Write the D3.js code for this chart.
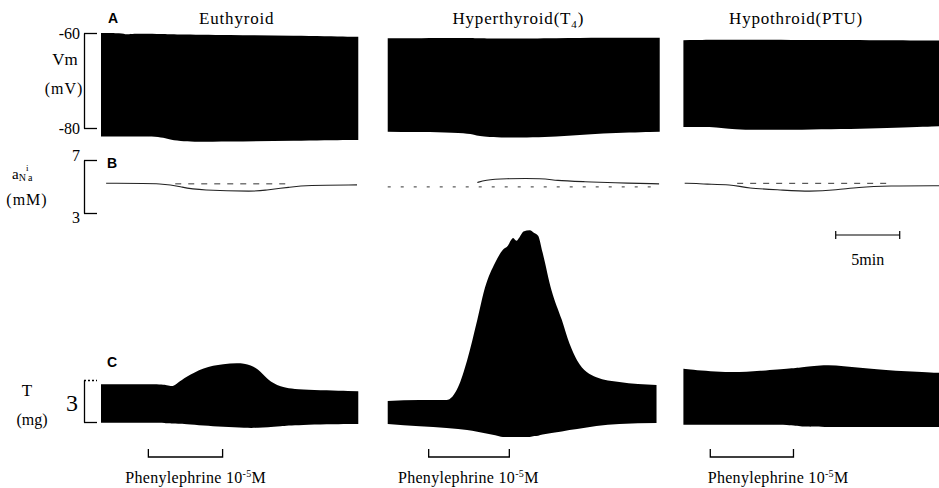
<!DOCTYPE html>
<html>
<head>
<meta charset="utf-8">
<script src="https://cdn.jsdelivr.net/npm/d3@7"></script>
<style>
body { margin: 0; background: #fff; }
svg text { font-family: "Liberation Serif", "Times New Roman", serif; fill: #000; }
.plab { font-family: "Liberation Sans", Arial, sans-serif; font-weight: bold; font-size: 14px; }
</style>
</head>
<body>
<svg width="939" height="488"></svg>
<script>
// groups, each on its own stretch of one shared time axis (min)
var groups = ["Euthyroid", "Hyperthyroid", "Hypothroid"];
var groupNote = ["", "T", "PTU"];
var colStart = [0, 22.4, 45.5];

// A: membrane potential envelope  [min, top mV, bottom mV]
var vmEu = [[0, -60, -81.8], [1.6, -60, -81.8], [2.0, -60.4, -81.8], [2.4, -60.1, -81.8], [5.0, -60.2, -81.8],
            [5.6, -60.3, -82.9], [10, -60.4, -82.9], [15, -60.6, -82.7], [20.1, -60.8, -82.5]];
var vmHyper = [[0, -61.1, -80.8], [6.5, -61.0, -80.9], [7.0, -61.1, -81.8], [8.8, -61.2, -82.1],
               [13.4, -61.1, -81.9], [16.6, -61.0, -81.1], [21.25, -61.0, -80.8]];
var vmHypo = [[0, -61.5, -79.8], [2.9, -61.4, -79.8], [3.7, -61.4, -80.4], [9.1, -61.5, -80.4],
              [15.5, -61.5, -80.1], [20.2, -61.6, -79.6]];

// B: intracellular Na activity  [min, mM]
var naEu = [[0.4, 5.24], [5.2, 5.24], [6.3, 4.94], [7.7, 4.72], [12.2, 4.62], [12.7, 4.72],
            [14.8, 4.95], [16, 5.1], [20, 5.12]];
var naHyper = [[7.0, 5.3], [7.6, 5.49], [9, 5.6], [12.3, 5.62], [13, 5.45], [15.5, 5.36],
               [17.5, 5.28], [21.2, 5.2]];
var naHypo = [[0.1, 5.24], [1.1, 5.24], [1.6, 5.17], [3.7, 5.17], [5.0, 4.86], [7.6, 4.74],
              [9.9, 4.61], [12.0, 4.74], [13.6, 4.94], [15.9, 5.06], [20.2, 5.06]];
// dashed reference level  [from min, to min, mM]
var naRef = [[5.8, 14.5, 5.2], [0, 21.2, 4.97], [4.2, 15.9, 5.24]];

// C: tension envelope  [min, top mg, bottom mg]
var tEu = [[0, 2.7, -0.05], [4.4, 2.7, -0.05], [5.2, 2.65, -0.1], [5.6, 2.5, -0.1], [6.0, 2.8, -0.12],
           [6.6, 3.2, -0.15], [8.0, 3.9, -0.25], [9.5, 4.15, -0.35], [11.3, 4.25, -0.43], [12.3, 3.8, -0.42],
           [13.0, 3.0, -0.38], [14.0, 2.5, -0.3], [15.2, 2.3, -0.2], [20.1, 2.2, -0.14]];
var tHyper = [[0, 1.5, -0.14], [2.5, 1.57, -0.3], [4.6, 1.57, -0.42], [5.5, 2.5, -0.5], [6.2, 4.4, -0.58],
              [7.0, 7.3, -0.7], [7.6, 9.6, -0.8], [8.4, 11.4, -0.95], [9.0, 12.3, -1.07], [9.4, 12.6, -1.07],
              [9.6, 12.95, -1.07], [9.8, 13.15, -1.07], [10.05, 12.95, -1.07], [10.3, 13.2, -1.07],
              [10.6, 13.6, -1.07], [11.1, 13.7, -1.07], [11.45, 13.5, -1.0], [11.75, 13.3, -0.98],
              [12.1, 12.1, -0.9], [12.8, 9.4, -0.78], [13.6, 7.3, -0.68], [14.2, 5.6, -0.58],
              [14.8, 4.4, -0.5], [16.3, 3.2, -0.28], [18.1, 2.85, -0.15], [21.0, 2.65, -0.07]];
var tHypo = [[0, 3.8, -0.2], [3.4, 3.5, -0.2], [6.0, 3.65, -0.2], [8.6, 3.85, -0.22], [9.2, 3.9, -0.35],
             [11.25, 4.15, -0.36], [13.8, 3.85, -0.36], [16.4, 3.65, -0.36], [20.2, 3.5, -0.36]];

// phenylephrine application  [from min, to min]
var phenyl = [[3.7, 9.5], [3.2, 9.5], [2.1, 8.6]];

var vmTicks = [-60, -80], naTicks = [7, 3], tTicks = [3, 0];
var scaleBar = [57.4, 62.4];

var svg = d3.select("svg");

var x = d3.scaleLinear().domain([0, 65]).range([101, 933]);
var yVm = d3.scaleLinear().domain([-80, -60]).range([128, 33]);
var yNa = d3.scaleLinear().domain([3, 7]).range([213, 160]);
var yT = d3.scaleLinear().domain([0, 3]).range([422, 380]);

function band(ys, off, curve) {
    return d3.area()
        .curve(curve || d3.curveBasis)
        .x(function(d) { return x(d[0] + off); })
        .y0(function(d) { return ys(d[2]); })
        .y1(function(d) { return ys(d[1]); });
}
function trace(ys, off) {
    return d3.line()
        .curve(d3.curveBasis)
        .x(function(d) { return x(d[0] + off); })
        .y(function(d) { return ys(d[1]); });
}

var vmAll = [vmEu, vmHyper, vmHypo], naAll = [naEu, naHyper, naHypo], tAll = [tEu, tHyper, tHypo];

vmAll.forEach(function(d, i) {
    svg.append("path").attr("d", band(yVm, colStart[i])(d)).attr("fill", "#000");
});
tAll.forEach(function(d, i) {
    var c = i == 1 ? d3.curveMonotoneX : d3.curveBasis;
    svg.append("path").attr("d", band(yT, colStart[i], c)(d)).attr("fill", "#000");
});
naAll.forEach(function(d, i) {
    svg.append("path").attr("d", trace(yNa, colStart[i])(d))
        .attr("fill", "none").attr("stroke", "#222").attr("stroke-width", 1.1);
});
naRef.forEach(function(r, i) {
    svg.append("line")
        .attr("x1", x(r[0] + colStart[i])).attr("x2", x(r[1] + colStart[i]))
        .attr("y1", yNa(r[2])).attr("y2", yNa(r[2]))
        .attr("stroke", "#333").attr("stroke-width", 1)
        .attr("stroke-dasharray", i == 1 ? "3,10" : "6,7");
});

// calibration brackets
function bracket(ys, ticks, labels) {
    var g = svg.append("g").attr("transform", "translate(84,0)")
        .call(d3.axisLeft(ys).tickValues(ticks).tickSizeInner(-13).tickSizeOuter(0).tickPadding(4)
            .tickFormat(function(d, i) { return labels[i]; }));
    g.select(".domain").attr("stroke-width", 1.3);
    g.selectAll(".tick line").attr("stroke-width", 1.3);
    g.selectAll(".tick text").style("font-size", "16px").attr("font-family", null);
    return g;
}
bracket(yVm, vmTicks, ["-60", "-80"]);
var gb = bracket(yNa, naTicks, ["7", "3"]);
gb.selectAll(".tick text").attr("dy", function(d) { return d == 7 ? "0em" : "0.6em"; });
var gc = bracket(yT, tTicks, ["", ""]);
gc.selectAll(".tick line").filter(function(d) { return d == 3; }).attr("stroke-dasharray", "2,2");

// titles
var titleAt = [10.6, 10.2, 8.8];
groups.forEach(function(g, i) {
    var t = svg.append("text").attr("x", x(titleAt[i] + colStart[i])).attr("y", 24)
        .attr("text-anchor", "middle").style("font-size", "17px").style("letter-spacing", "0.8px")
        .text(g);
    if (groupNote[i] == "T") {
        t.append("tspan").text("(T");
        t.append("tspan").attr("dy", 4).style("font-size", "11px").text("4");
        t.append("tspan").attr("dy", -4).text(")");
    } else if (groupNote[i]) {
        t.append("tspan").text("(" + groupNote[i] + ")");
    }
});

// panel letters
svg.append("text").attr("class", "plab").attr("x", 108).attr("y", 23).text("A");
svg.append("text").attr("class", "plab").attr("x", 107).attr("y", 168).text("B");
svg.append("text").attr("class", "plab").attr("x", 107).attr("y", 367).text("C");

// row labels
function lab(tx, xx, yy, size) {
    return svg.append("text").attr("x", xx).attr("y", yy).attr("text-anchor", "middle")
        .style("font-size", size + "px").text(tx);
}
lab("Vm", 65, 65, 17);
lab("(mV)", 64, 94, 16).style("letter-spacing", "1px");
var an = svg.append("text").attr("x", 12).attr("y", 179).style("font-size", "15px").text("a");
an.append("tspan").attr("dy", 2).style("font-size", "10px").text("N");
an.append("tspan").attr("dy", 0).attr("dx", 2).style("font-size", "10px").text("a");
svg.append("text").attr("x", 26).attr("y", 171).style("font-size", "9px").text("i");
lab("(mM)", 27, 205, 16).style("letter-spacing", "1px");
lab("T", 27, 396, 17);
lab("(mg)", 32, 425, 16);
lab("3", 72, 411, 24);

// phenylephrine brackets
var phenTextAt = [1.9, 0.8, 1.9];
phenyl.forEach(function(p, i) {
    var x0 = x(p[0] + colStart[i]), x1 = x(p[1] + colStart[i]);
    svg.append("path")
        .attr("d", "M" + x0 + ",449V457H" + x1 + "V449")
        .attr("fill", "none").attr("stroke", "#000").attr("stroke-width", 1.3);
    var t = svg.append("text").attr("x", x(phenTextAt[i] + colStart[i])).attr("y", 483)
        .style("font-size", "16px").style("letter-spacing", "0.3px").text("Phenylephrine 10");
    t.append("tspan").attr("dy", -6).style("font-size", "10px").text("-5");
    t.append("tspan").attr("dy", 6).text("M");
});

// time scale bar
svg.append("path")
    .attr("d", "M" + x(scaleBar[0]) + ",231V239M" + x(scaleBar[0]) + ",235H" + x(scaleBar[1]) +
        "M" + x(scaleBar[1]) + ",231V239")
    .attr("fill", "none").attr("stroke", "#000").attr("stroke-width", 1.2);
svg.append("text").attr("x", (x(scaleBar[0]) + x(scaleBar[1])) / 2).attr("y", 265)
    .attr("text-anchor", "middle").style("font-size", "16px").text("5min");
</script>
</body>
</html>
